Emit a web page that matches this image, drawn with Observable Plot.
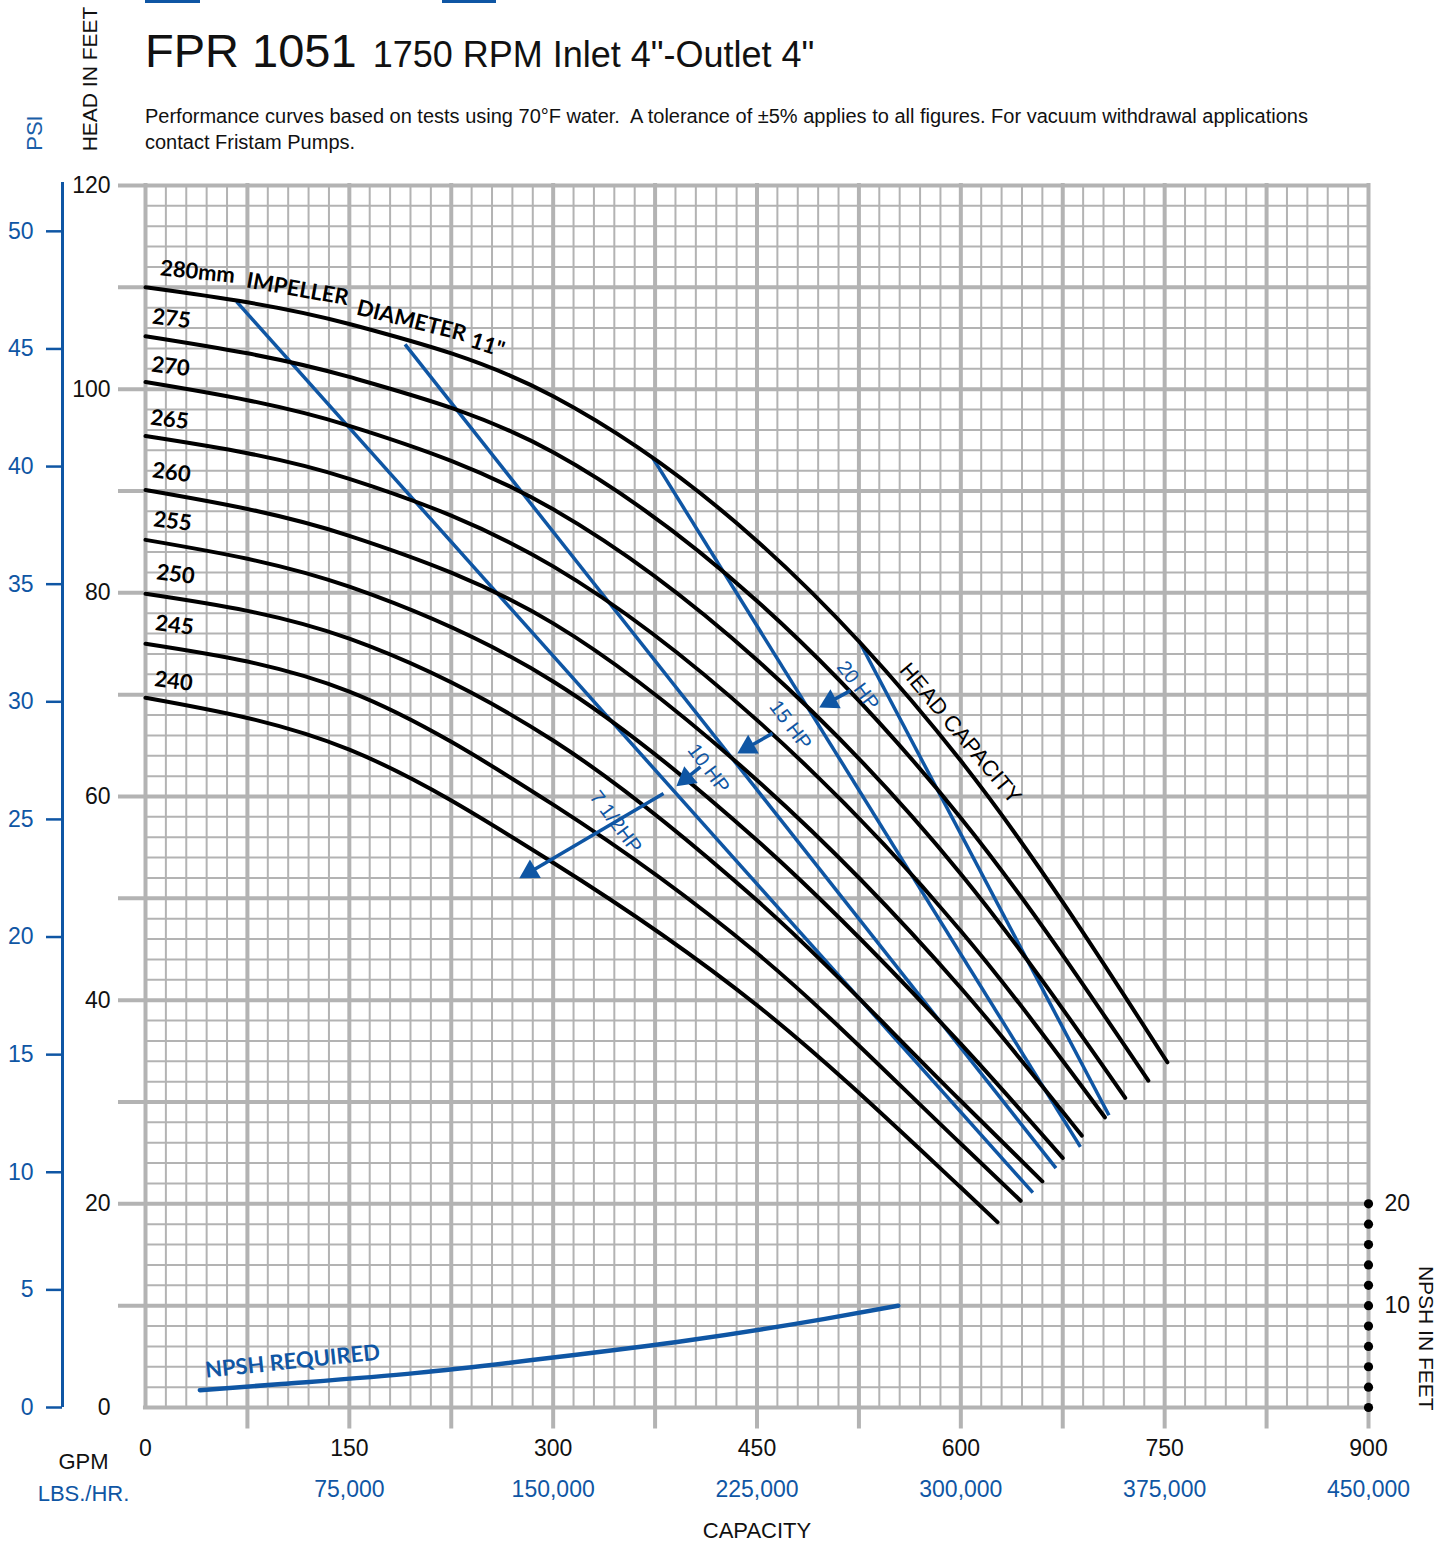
<!DOCTYPE html>
<html><head><meta charset="utf-8">
<script src="https://cdn.jsdelivr.net/npm/d3@7"></script>
<script src="https://cdn.jsdelivr.net/npm/@observablehq/plot@0.6"></script>
<style>
body{margin:0;background:#fff;width:1454px;height:1543px;overflow:hidden;font-family:"Liberation Sans",Arial,sans-serif;color:#111;}
#header{position:relative;height:160px;}
.bar{position:absolute;top:0;height:3px;background:#0f56a4;}
.title{position:absolute;left:145px;top:27px;font-size:47px;line-height:47px;white-space:nowrap;}
.sub{position:absolute;left:145px;top:103px;font-size:20px;line-height:26px;white-space:nowrap;}
.vlab{position:absolute;white-space:nowrap;transform:translate(-50%,-50%) rotate(-90deg);font-size:21px;}
#chart svg{display:block;}
</style></head><body>
<div id="header">
  <div class="bar" style="left:145px;width:55px"></div>
  <div class="bar" style="left:442px;width:54px"></div>
  <div class="title">FPR 1051<span style="font-size:36px;margin-left:16px">1750 RPM Inlet 4"-Outlet 4"</span></div>
  <div class="sub">Performance curves based on tests using 70°F water.&nbsp; A tolerance of ±5% applies to all figures. For vacuum withdrawal applications<br>contact Fristam Pumps.</div>
  <div class="vlab" style="left:90px;top:79px;">HEAD IN FEET</div>
  <div class="vlab" style="left:35px;top:133px;color:#1a5ea8;font-size:22px;">PSI</div>
</div>
<div id="chart"></div>
<script>
// ---------- data ----------
const diameters = [280, 275, 270, 265, 260, 255, 250, 245, 240];
const qGrid = [0, 150, 300, 450, 600];
const h280 = [110.0, 106.4, 99.3, 85.1, 63.5];
const h275 = [105.2, 101.2, 93.8, 79.2, 57.9];
const h270 = [100.7, 96.4, 88.2, 73.4, 52.4];
const h265 = [95.4, 91.2, 82.6, 67.5, 46.8];
const h260 = [90.1, 85.6, 77.0, 61.6, 41.2];
const h255 = [85.2, 80.6, 71.3, 55.7, 35.7];
const h250 = [79.9, 75.5, 65.5, 49.8, 30.1];
const h245 = [75.0, 70.3, 59.2, 44.6, 25.9];
const h240 = [69.7, 64.6, 53.5, 39.5, 21.6];
const endQ = [752, 738, 721, 706, 689, 675, 660, 644, 627];
const endH = [33.9, 32.1, 30.4, 28.5, 26.7, 24.5, 22.2, 20.3, 18.2];

// horsepower lines (start on 280 curve, end near the capacity limit)
const hpNames = ["7 1/2HP", "10 HP", "15 HP", "20 HP"];
const hpQ1 = [67, 191, 373, 525];
const hpH1 = [108.6, 104.4, 93.3, 75.3];
const hpQ2 = [653, 670, 688, 709];
const hpH2 = [21.1, 23.5, 25.6, 28.7];

// NPSH required curve
const npshQ = [40, 100, 200, 300, 400, 500, 554];
const npshH = [1.7, 2.3, 3.4, 4.9, 6.6, 8.7, 10.0];

// tick labels
const headTicks = [0, 20, 40, 60, 80, 100, 120];
const psiTicks = [0, 5, 10, 15, 20, 25, 30, 35, 40, 45, 50];
const gpmTicks = [0, 150, 300, 450, 600, 750, 900];
const lbsTicks = [75000, 150000, 225000, 300000, 375000, 450000];
const npshTicks = [0, 2, 4, 6, 8, 10, 12, 14, 16, 18, 20];
const npshLabels = [10, 20];
const FT_PER_PSI = 2.31;
const LBS_PER_GPM = 500;

// annotation positions (GPM, ft)
const curveLabelQ = [19.1, 18.4, 17.7, 19.1, 19.9, 22.1, 21.3, 20.6];
const curveLabelH = [106.9, 102.2, 97.0, 91.8, 87.0, 81.8, 76.8, 71.3];
const curveLabelText = ["275", "270", "265", "260", "255", "250", "245", "240"];
const titleWords = ["280mm", "IMPELLER", "DIAMETER", "11\""];
const titleWordQ = [38.3, 111.9, 195.8, 251.7];
const titleWordH = [111.5, 109.8, 106.7, 104.3];
const titleWordRot = [6, 10, 14, 18];
const hpLabelQ = [345.9, 414.3, 474.6, 524.2];
const hpLabelH = [57.5, 62.75, 67.0, 70.9];
const arrowQ1 = [381.2, 408.4, 461.4, 518.8];
const arrowH1 = [60.3, 62.9, 66.2, 70.4];
const arrowQ2 = [276.0, 391.5, 436.4, 496.7];
const arrowH2 = [52.05, 61.1, 64.3, 68.8];

// ---------- layout ----------
const W = 1454, H = 1383;
const mL = 145, mR = 86, mT = 25, mB = 136;
const kx = (W - mL - mR) / 900;   // px per GPM
const ky = (H - mT - mB) / 120;   // px per ft
const blue = "#0f56a4";
const gray = "#b3b3b3";
const ink = "#111";

const minorX = d3.range(0, 901, 15).filter(d => d % 75 !== 0);
const majorX = d3.range(0, 901, 75);
const minorY = d3.range(0, 121, 2).filter(d => d % 10 !== 0);
const majorY = d3.range(0, 121, 10);

const headArrays = [h280, h275, h270, h265, h260, h255, h250, h245, h240];
const curveRows = [];
diameters.forEach((d, i) => {
  qGrid.forEach((q, j) => { if (q < endQ[i]) curveRows.push({d, q, h: headArrays[i][j]}); });
  curveRows.push({d, q: endQ[i], h: endH[i]});
});
const hpRows = hpNames.map((n, i) => ({n, x1: hpQ1[i], y1: hpH1[i], x2: hpQ2[i], y2: hpH2[i]}));
const npshRows = npshQ.map((q, i) => ({q, h: npshH[i]}));

const arrows = arrowQ1.map((q, i) => {
  const sx = (arrowQ2[i] - q) * kx, sy = -(arrowH2[i] - arrowH1[i]) * ky;
  const len = Math.hypot(sx, sy), ux = sx / len, uy = sy / len;
  const back = 11;
  return {
    x1: q, y1: arrowH1[i],
    cx: arrowQ2[i] - back * ux / kx, cy: arrowH2[i] + back * uy / ky,
    rot: Math.atan2(sy, sx) * 180 / Math.PI + 90
  };
});

const xPsi = (62 - mL) / kx, xPsiTick = (46 - mL) / kx, xLeftTick = (118 - mL) / kx;
const font = "Liberation Sans, Arial, sans-serif";
const boldFont = "Lato, Liberation Sans, sans-serif";

const chart = Plot.plot({
  width: W, height: H,
  marginLeft: mL, marginRight: mR, marginTop: mT, marginBottom: mB,
  x: {domain: [0, 900], axis: null},
  y: {domain: [0, 120], axis: null},
  style: {fontFamily: font, background: "#fff"},
  marks: [
    Plot.ruleX(minorX, {y1: 0, y2: 120, stroke: gray, strokeWidth: 2}),
    Plot.ruleY(minorY, {x1: 0, x2: 900, stroke: gray, strokeWidth: 2}),
    Plot.ruleX(majorX, {x: d => d, y1: d => d === 0 ? 0 : -2.1, y2: 120.2, stroke: gray, strokeWidth: 4}),
    Plot.ruleY(majorY, {y: d => d, x1: d => d === 0 ? -1.5 : xLeftTick, x2: 901.5, stroke: gray, strokeWidth: 4}),
    // PSI axis
    Plot.ruleX([xPsi], {y1: 0, y2: 120.3, stroke: blue, strokeWidth: 3}),
    Plot.ruleY(psiTicks, {y: d => d * FT_PER_PSI, x1: xPsiTick, x2: xPsi, stroke: blue, strokeWidth: 2.5}),
    Plot.text(psiTicks, {x: 0, y: d => d * FT_PER_PSI, dx: -112, textAnchor: "end", fill: blue, fontSize: 23}),
    // head axis labels
    Plot.text(headTicks, {x: 0, y: d => d, dx: -35, textAnchor: "end", fill: ink, fontSize: 23}),
    // x axis labels
    Plot.text(gpmTicks, {x: d => d, y: 0, dy: 41, fill: ink, fontSize: 23}),
    Plot.text(lbsTicks, {x: d => d / LBS_PER_GPM, y: 0, dy: 82, fill: blue, fontSize: 23, text: d => d3.format(",")(d)}),
    Plot.text(["GPM"], {x: 0, y: 0, dx: -62, dy: 54, fill: ink, fontSize: 22}),
    Plot.text(["LBS./HR."], {x: 0, y: 0, dx: -62, dy: 86, fill: blue, fontSize: 22}),
    Plot.text(["CAPACITY"], {x: 450, y: 0, dy: 123, fill: ink, fontSize: 22}),
    // NPSH axis
    Plot.dot(npshTicks, {x: 900, y: d => d, r: 4.6, fill: "#000", stroke: null}),
    Plot.text(npshLabels, {x: 900, y: d => d, dx: 16, textAnchor: "start", fill: ink, fontSize: 23}),
    Plot.text(["NPSH IN FEET"], {x: 900, y: 6.8, dx: 57, rotate: 90, fill: ink, fontSize: 21}),
    // horsepower lines
    Plot.link(hpRows, {x1: "x1", y1: "y1", x2: "x2", y2: "y2", stroke: blue, strokeWidth: 3.5}),
    // head-capacity curves
    Plot.line(curveRows, {x: "q", y: "h", z: "d", stroke: "#000", strokeWidth: 4, curve: "monotone-x"}),
    // NPSH required
    Plot.line(npshRows, {x: "q", y: "h", stroke: blue, strokeWidth: 4.5, curve: "monotone-x"}),
    Plot.text(["NPSH REQUIRED"], {x: 108.2, y: 4.5, rotate: -6, fill: blue, fontSize: 22, fontFamily: boldFont, fontWeight: 700}),
    // arrows
    Plot.link(arrows, {x1: "x1", y1: "y1", x2: "cx", y2: "cy", stroke: blue, strokeWidth: 3.5}),
    Plot.dot(arrows, {x: "cx", y: "cy", symbol: "triangle", r: 8, fill: blue, stroke: null, rotate: "rot"}),
    Plot.text(hpNames, {x: (d, i) => hpLabelQ[i], y: (d, i) => hpLabelH[i], rotate: 53, fill: blue, fontSize: 20}),
    // curve labels
    Plot.text(curveLabelText, {x: (d, i) => curveLabelQ[i], y: (d, i) => curveLabelH[i], rotate: 7, fill: "#000", fontSize: 22, fontFamily: boldFont, fontWeight: 700}),
    Plot.text(titleWords, {x: (d, i) => titleWordQ[i], y: (d, i) => titleWordH[i], rotate: (d, i) => titleWordRot[i], fill: "#000", fontSize: 22, fontFamily: boldFont, fontWeight: 700}),
    Plot.text(["HEAD CAPACITY"], {x: 599.7, y: 66.2, rotate: 50, fill: "#000", fontSize: 22})
  ]
});
document.getElementById("chart").appendChild(chart);
</script>
</body></html>
